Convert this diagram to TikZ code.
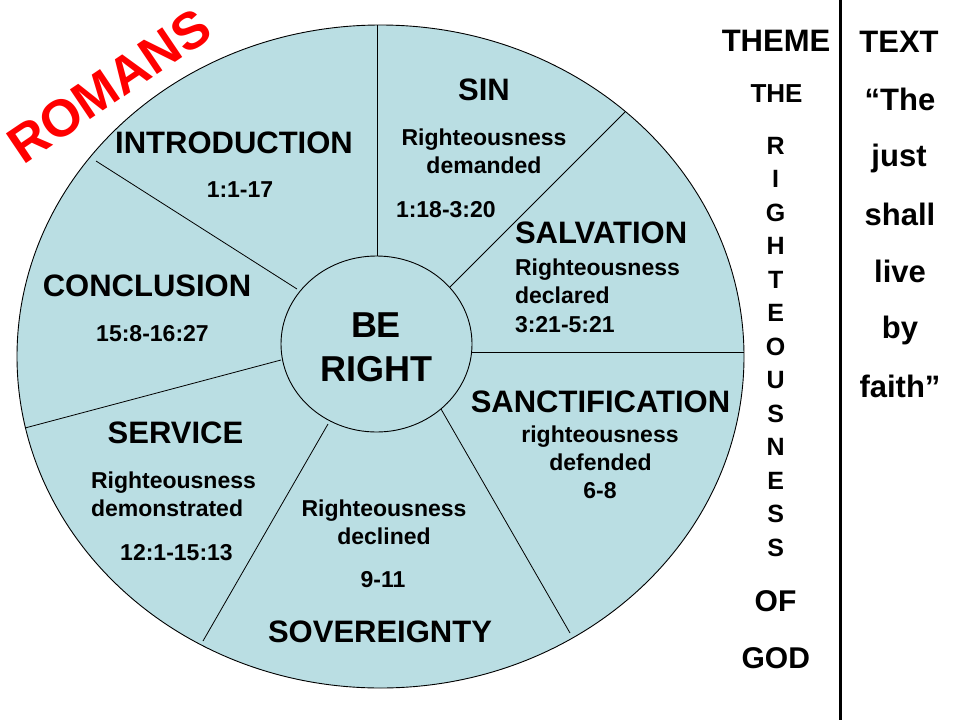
\documentclass[tikz,border=0pt]{standalone}
\usepackage{fontspec}
\setmainfont{Liberation Sans}
\definecolor{wheel}{RGB}{186,222,227}
\definecolor{romred}{RGB}{255,0,0}
\tikzset{
  head/.style={font=\fontsize{31}{36}\selectfont\bfseries, anchor=base},
  sub/.style={font=\fontsize{23}{28}\selectfont\bfseries, anchor=base},
  subl/.style={sub, anchor=base west},
  headl/.style={head, anchor=base west},
  hub/.style={font=\fontsize{36}{42}\selectfont\bfseries, anchor=base},
  letter/.style={font=\fontsize{25}{30}\selectfont\bfseries, anchor=base},
  spoke/.style={line width=0.8pt},
}
\begin{document}
\begin{tikzpicture}[x=1pt,y=-1pt, every node/.style={inner sep=0pt, outer sep=0pt}]
\useasboundingbox (0,0) rectangle (960,720);
% wheel
\draw[fill=wheel, line width=0.9pt] (380.5,356.5) ellipse [x radius=363.5pt, y radius=331.5pt];
\draw[spoke] (377,25) -- (377,256);
\draw[spoke] (625,112) -- (450,287);
\draw[spoke] (472,352) -- (744,352);
\draw[spoke] (441,409) -- (570,633);
\draw[spoke] (328,424) -- (203,641);
\draw[spoke] (281,360) -- (25,428);
\draw[spoke] (297,289) -- (96,161);
\draw[fill=wheel, line width=0.9pt] (376.5,344) ellipse [x radius=95.5pt, y radius=88pt];
% title
\node[font=\fontsize{52}{60}\selectfont\bfseries, text=romred, rotate=34, anchor=center] (romans) at (109,86) {ROMANS};
% segments
\node[head] (intro) at (234,153) {INTRODUCTION};
\node[sub] (introref) at (240,197) {1:1-17};
\node[head] (sin) at (484,100) {SIN};
\node[sub] (sin1) at (484,145) {Righteousness};
\node[sub] (sin2) at (484,173) {demanded};
\node[subl] (sinref) at (396,217) {1:18-3:20};
\node[headl] (salv) at (515,243) {SALVATION};
\node[subl] (salv1) at (515,275) {Righteousness};
\node[subl] (salv2) at (515,303) {declared};
\node[subl] (salvref) at (515,332) {3:21-5:21};
\node[head] (concl) at (147,296) {CONCLUSION};
\node[sub] (conclref) at (152.5,341) {15:8-16:27};
\node[hub] (be) at (376,337) {BE};
\node[hub] (right) at (376.5,381.5) {RIGHT};
\node[head] (sanct) at (600.5,412) {SANCTIFICATION};
\node[sub] (sanct1) at (600,442) {righteousness};
\node[sub] (sanct2) at (600.5,470.5) {defended};
\node[sub] (sanctref) at (600,498) {6-8};
\node[head] (serv) at (175.5,443) {SERVICE};
\node[subl] (serv1) at (91,488) {Righteousness};
\node[subl] (serv2) at (91,516.5) {demonstrated};
\node[sub] (servref) at (176.5,560) {12:1-15:13};
\node[sub] (sov1) at (384,516) {Righteousness};
\node[sub] (sov2) at (384,544) {declined};
\node[sub] (sovref) at (383,587) {9-11};
\node[head] (sov) at (380,642.5) {SOVEREIGNTY};
% right columns
\draw[line width=3pt] (840,0) -- (840,720);
\node[head] (theme) at (776,51.7) {THEME};
\node[head] (text) at (899,52) {TEXT};
\node[font=\fontsize{26}{30}\selectfont\bfseries, anchor=base] (the) at (776.5,102.5) {THE};
\foreach \l [count=\i from 0] in {R,I,G,H,T,E,O,U,S,N,E,S,S} {
  \node[letter] (r\i) at (775.7,{154+33.5*\i}) {\l};
}
\node[font=\fontsize{30}{36}\selectfont\bfseries, anchor=base] (of) at (775.5,611.5) {OF};
\node[font=\fontsize{30}{36}\selectfont\bfseries, anchor=base] (god) at (775.8,668) {GOD};
\node[head] (t1) at (900,110) {“The};
\node[head] (t2) at (899,166.5) {just};
\node[head] (t3) at (900,225) {shall};
\node[head] (t4) at (900,282.5) {live};
\node[head] (t5) at (900,338) {by};
\node[head] (t6) at (900,397) {faith”};
\end{tikzpicture}
\end{document}
